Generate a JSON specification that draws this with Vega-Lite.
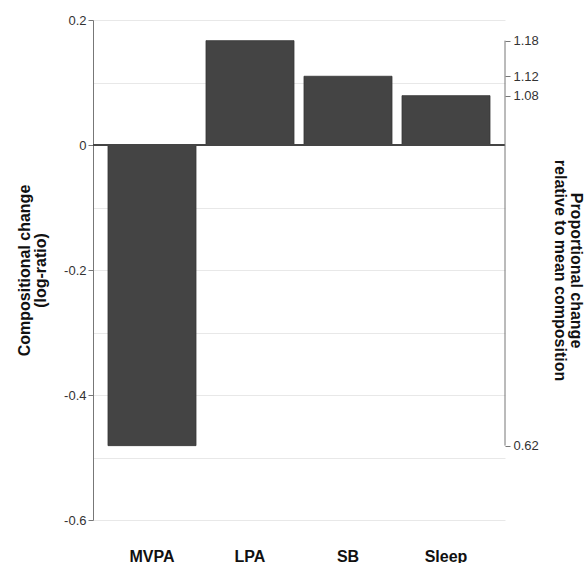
{
  "$schema": "https://vega.github.io/schema/vega-lite/v6.json",
  "width": 412,
  "height": 500,
  "autosize": {"type": "none"},
  "padding": {"left": 93, "top": 20, "right": 81, "bottom": 43},
  "background": "white",
  "config": {"view": {"stroke": null}, "font": "Liberation Sans"},
  "data": {
    "values": [
      {"component": "MVPA", "value": -0.481},
      {"component": "LPA", "value": 0.167},
      {"component": "SB", "value": 0.110},
      {"component": "Sleep", "value": 0.079}
    ]
  },
  "layer": [
    {
      "mark": {"type": "bar", "color": "#444444", "stroke": "#363636", "strokeWidth": 0.8},
      "encoding": {
        "x": {
          "field": "component",
          "type": "nominal",
          "sort": null,
          "scale": {"paddingInner": 0.102, "paddingOuter": 0.153},
          "axis": {
            "title": null,
            "domain": false,
            "ticks": false,
            "labelAngle": 0,
            "labelFontSize": 16,
            "labelFontWeight": "bold",
            "labelColor": "#111111",
            "labelPadding": 28
          }
        },
        "y": {
          "field": "value",
          "type": "quantitative",
          "scale": {"domain": [-0.6, 0.2], "nice": false, "zero": false},
          "axis": {
            "orient": "left",
            "values": [0.2, 0.1, 0, -0.1, -0.2, -0.3, -0.4, -0.5, -0.6],
            "grid": true,
            "gridColor": "#e8e8e8",
            "gridWidth": 1,
            "labelExpr": "round(datum.value*10) % 2 === 0 ? datum.value + '' : ''",
            "tickOpacity": {"condition": {"test": "round(datum.value*10) % 2 !== 0", "value": 0}, "value": 1},
            "tickSize": 5,
            "tickColor": "#777777",
            "domainColor": "#777777",
            "labelFontSize": 13,
            "labelColor": "#333333",
            "labelPadding": 2,
            "title": ["Compositional change", "(log-ratio)"],
            "titleFontSize": 16,
            "titleFontWeight": "bold",
            "titleColor": "#111111",
            "titlePadding": 15,
            "titleLineHeight": 16
          }
        }
      }
    },
    {
      "mark": {"type": "rule", "color": "#444444", "strokeWidth": 1.5},
      "encoding": {
        "y": {"datum": 0, "type": "quantitative", "scale": {"domain": [-0.6, 0.2], "nice": false, "zero": false}, "axis": null}
      }
    },
    {
      "mark": {"type": "rule", "color": "#777777", "strokeWidth": 1},
      "encoding": {
        "x": {"value": "width"},
        "y": {
          "aggregate": "min",
          "field": "value",
          "type": "quantitative",
          "scale": {"domain": [-0.6, 0.2], "nice": false, "zero": false},
          "axis": {
            "orient": "right",
            "values": [-0.481, 0.167, 0.110, 0.079],
            "labelExpr": "format(exp(datum.value), '.2f')",
            "domain": false,
            "grid": false,
            "tickSize": 5,
            "tickColor": "#777777",
            "labelFontSize": 13,
            "labelColor": "#333333",
            "labelPadding": 3,
            "title": ["Proportional change", "relative to mean composition"],
            "titleAngle": 90,
            "titleFontSize": 16,
            "titleFontWeight": "bold",
            "titleColor": "#111111",
            "titlePadding": 13,
            "titleLineHeight": 16
          }
        },
        "y2": {"aggregate": "max", "field": "value"}
      }
    }
  ],
  "resolve": {"scale": {"y": "independent"}}
}
